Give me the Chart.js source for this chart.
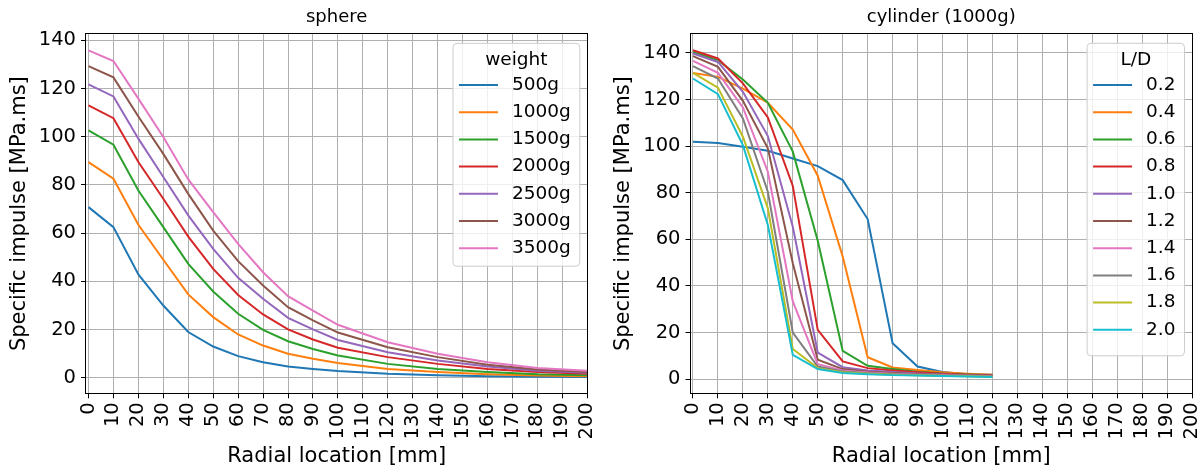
<!DOCTYPE html>
<html>
<head>
<meta charset="utf-8">
<title>Specific impulse</title>
<script src="https://cdn.jsdelivr.net/npm/chart.js@4.4.1/dist/chart.umd.min.js"></script>
<style>
    html, body { margin: 0; padding: 0; background: #fff; }
    #wrap { position: relative; width: 1203px; height: 472px; }
    canvas { position: absolute; top: 0; }
</style>
</head>
<body>
<div id="wrap">
    <canvas id="sphereChart" width="600" height="472" style="left:0px"></canvas>
    <canvas id="cylinderChart" width="599" height="472" style="left:604px"></canvas>
</div>
<script>
// Radial locations (mm)
const sphereX = [0, 10, 20, 30, 40, 50, 60, 70, 80, 90, 100, 120, 140, 160, 180, 200];
const cylinderX = [0, 10, 20, 30, 40, 50, 60, 70, 80, 90, 100, 110, 120];

// Tick labels
const xTicks = [0, 10, 20, 30, 40, 50, 60, 70, 80, 90, 100, 110, 120, 130, 140, 150, 160, 170, 180, 190, 200];
const yTicks = [0, 20, 40, 60, 80, 100, 120, 140];

// Sphere: specific impulse per charge weight (MPa.ms)
const weightLabels = ['500g', '1000g', '1500g', '2000g', '2500g', '3000g', '3500g'];
const sphere500 = [70.8, 62.5, 42.9, 30.0, 19.0, 13.0, 9.0, 6.5, 4.7, 3.7, 2.8, 1.7, 1.1, 0.7, 0.5, 0.4];
const sphere1000 = [89.5, 82.6, 63.5, 49.0, 34.6, 25.2, 18.0, 13.4, 10.0, 7.9, 6.2, 3.7, 2.4, 1.5, 1.0, 0.7];
const sphere1500 = [102.6, 96.7, 77.7, 62.5, 47.3, 35.8, 26.6, 19.9, 15.2, 12.0, 9.3, 5.8, 3.7, 2.4, 1.5, 1.1];
const sphere2000 = [113.0, 107.7, 89.5, 74.3, 58.6, 45.2, 34.4, 26.3, 20.1, 15.9, 12.5, 8.6, 5.8, 3.7, 2.4, 1.7];
const sphere2500 = [121.7, 116.7, 99.2, 83.3, 67.4, 53.5, 41.5, 32.8, 24.9, 20.1, 15.7, 10.6, 7.2, 4.7, 3.0, 2.1];
const sphere3000 = [129.3, 124.6, 108.4, 92.9, 76.3, 61.1, 48.4, 38.3, 29.3, 23.8, 18.8, 12.7, 8.6, 5.4, 3.5, 2.4];
const sphere3500 = [135.8, 131.4, 115.8, 99.9, 82.3, 68.7, 55.6, 43.8, 33.9, 27.9, 22.0, 14.8, 10.0, 6.5, 4.1, 3.0];

// Cylinder (1000g): specific impulse per L/D ratio (MPa.ms)
const ratioLabels = ['0.2', '0.4', '0.6', '0.8', '1.0', '1.2', '1.4', '1.6', '1.8', '2.0'];
const cyl02 = [101.9, 101.3, 99.7, 98.0, 94.7, 91.4, 85.4, 68.7, 15.4, 5.4, 3.0, 2.1, 1.9];
const cyl04 = [131.4, 129.7, 124.7, 118.6, 107.1, 87.3, 52.6, 9.4, 5.0, 3.9, 2.9, 2.3, 1.9];
const cyl06 = [140.4, 136.9, 128.6, 118.6, 97.6, 59.4, 12.1, 5.7, 4.3, 3.1, 2.4, 2.0, 1.7];
const cyl08 = [141.1, 137.6, 126.9, 112.3, 82.9, 21.1, 7.6, 4.7, 3.7, 2.9, 2.3, 1.9, 1.6];
const cyl10 = [139.7, 136.1, 123.3, 104.3, 65.4, 11.4, 5.1, 3.7, 3.0, 2.4, 2.0, 1.7, 1.4];
const cyl12 = [138.6, 134.0, 119.4, 99.0, 49.7, 8.3, 4.3, 3.1, 2.6, 2.1, 1.8, 1.5, 1.3];
const cyl14 = [136.6, 131.4, 116.6, 89.0, 33.3, 6.4, 3.7, 2.8, 2.3, 1.9, 1.6, 1.4, 1.2];
const cyl16 = [134.3, 129.0, 111.9, 80.4, 20.0, 5.4, 3.3, 2.5, 2.1, 1.8, 1.5, 1.3, 1.1];
const cyl18 = [131.4, 125.1, 104.0, 73.3, 12.9, 4.7, 2.9, 2.3, 1.9, 1.6, 1.4, 1.2, 1.0];
const cyl20 = [129.0, 122.3, 100.4, 66.1, 10.4, 4.3, 2.6, 2.1, 1.7, 1.5, 1.3, 1.1, 0.9];

// tab10 colours
const palette = ['#1f77b4', '#ff7f0e', '#2ca02c', '#d62728', '#9467bd',
                 '#8c564b', '#e377c2', '#7f7f7f', '#bcbd22', '#17becf'];

Chart.defaults.font.family = '"DejaVu Sans", sans-serif';
Chart.defaults.color = '#000';

// Title, frame and boxed legend drawn on top of the plot
const framePlugin = {
    id: 'frame',
    afterDraw(chart, args, opts) {
        const { ctx, chartArea: a } = chart;
        ctx.save();

        // axes title, centred on the plot area
        ctx.fillStyle = '#000';
        ctx.font = '18px "DejaVu Sans"';
        ctx.textAlign = 'center';
        ctx.textBaseline = 'alphabetic';
        ctx.fillText(opts.title, (a.left + a.right) / 2, 21.5);

        // spines
        ctx.strokeStyle = '#000';
        ctx.lineWidth = 1;
        const l = Math.round(a.left) - 0.5, t = Math.round(a.top) - 0.5;
        ctx.strokeRect(l, t, Math.round(a.right) - Math.round(a.left) + 1, Math.round(a.bottom) - Math.round(a.top) + 1);

        // legend box
        const sets = chart.data.datasets;
        ctx.font = '18.5px "DejaVu Sans"';
        const textW = Math.max(...sets.map(d => ctx.measureText(d.label).width));
        const w = 60 + textW + 8;
        const h = 41.7 + (sets.length - 1) * 27.2 + opts.legendBottom;
        const right = a.right - 7.5, top = a.top + 9.3, left = right - w;
        const r = 4;
        ctx.beginPath();
        ctx.moveTo(left + r, top);
        ctx.lineTo(right - r, top);
        ctx.arcTo(right, top, right, top + r, r);
        ctx.lineTo(right, top + h - r);
        ctx.arcTo(right, top + h, right - r, top + h, r);
        ctx.lineTo(left + r, top + h);
        ctx.arcTo(left, top + h, left, top + h - r, r);
        ctx.lineTo(left, top + r);
        ctx.arcTo(left, top, left + r, top, r);
        ctx.closePath();
        ctx.fillStyle = 'rgba(255,255,255,0.8)';
        ctx.fill();
        ctx.strokeStyle = '#cccccc';
        ctx.stroke();

        ctx.fillStyle = '#000';
        ctx.textBaseline = 'middle';
        ctx.textAlign = 'center';
        ctx.fillText(opts.legendTitle, left + w / 2, top + 16.5);

        ctx.textAlign = 'left';
        sets.forEach((d, i) => {
            const y = top + 41.7 + i * 27.2;
            ctx.strokeStyle = d.borderColor;
            ctx.lineWidth = 2;
            ctx.beginPath();
            ctx.moveTo(left + 6, y);
            ctx.lineTo(left + 45, y);
            ctx.stroke();
            ctx.fillText(d.label, left + 59, y);
        });
        ctx.restore();
    }
};

function buildDatasets(xs, labels, series) {
    return series.map((ys, i) => ({
        label: labels[i],
        data: ys.map((y, j) => ({ x: xs[j], y: y })),
        borderColor: palette[i],
        borderWidth: 2,
        pointRadius: 0,
        tension: 0,
        fill: false,
        order: series.length - i
    }));
}

function makeChart(id, cfg) {
    const grid = { color: '#b0b0b0', lineWidth: 1, tickColor: '#000', tickLength: 5, drawTicks: true };
    return new Chart(document.getElementById(id), {
        type: 'line',
        data: { datasets: cfg.datasets },
        options: {
            responsive: false,
            animation: false,
            layout: { padding: { top: 34, right: cfg.padRight, left: 0, bottom: 0 } },
            plugins: {
                legend: { display: false },
                tooltip: { enabled: false },
                frame: { title: cfg.title, legendTitle: cfg.legendTitle, legendBottom: cfg.legendBottom }
            },
            scales: {
                x: {
                    type: 'linear',
                    min: -1,
                    max: 200,
                    afterBuildTicks: s => { s.ticks = xTicks.map(v => ({ value: v })); },
                    afterFit: s => {
                        s.height = 78.7;
                        s.paddingLeft = 0;
                        s.paddingRight = 0;
                    },
                    grid: grid,
                    border: { display: false },
                    ticks: { font: { size: 19.5 }, color: '#000', minRotation: 90, maxRotation: 90, autoSkip: false, padding: 4 },
                    title: { display: true, text: 'Radial location [mm]', font: { size: 21 }, color: '#000', padding: { top: 0, bottom: 2.5 } }
                },
                y: {
                    type: 'linear',
                    min: cfg.yMin,
                    max: cfg.yMax,
                    afterBuildTicks: s => { s.ticks = yTicks.map(v => ({ value: v })); },
                    afterFit: s => { s.width = cfg.yWidth; },
                    grid: grid,
                    border: { display: false },
                    ticks: { font: { size: 19.5 }, color: '#000', padding: 5 },
                    title: { display: true, text: 'Specific impulse [MPa.ms]', font: { size: 21 }, color: '#000', padding: { top: 7.2, bottom: 0 } }
                }
            }
        },
        plugins: [framePlugin]
    });
}

makeChart('sphereChart', {
    title: 'sphere',
    legendTitle: 'weight',
    datasets: buildDatasets(sphereX, weightLabels,
        [sphere500, sphere1000, sphere1500, sphere2000, sphere2500, sphere3000, sphere3500]),
    yMin: -6.4,
    yMax: 142.6,
    yWidth: 86,
    padRight: 12.7,
    legendBottom: 18
});

makeChart('cylinderChart', {
    title: 'cylinder (1000g)',
    legendTitle: 'L/D',
    datasets: buildDatasets(cylinderX, ratioLabels,
        [cyl02, cyl04, cyl06, cyl08, cyl10, cyl12, cyl14, cyl16, cyl18, cyl20]),
    yMin: -6.1,
    yMax: 148.1,
    yWidth: 86.5,
    padRight: 11,
    legendBottom: 26
});
</script>
</body>
</html>
